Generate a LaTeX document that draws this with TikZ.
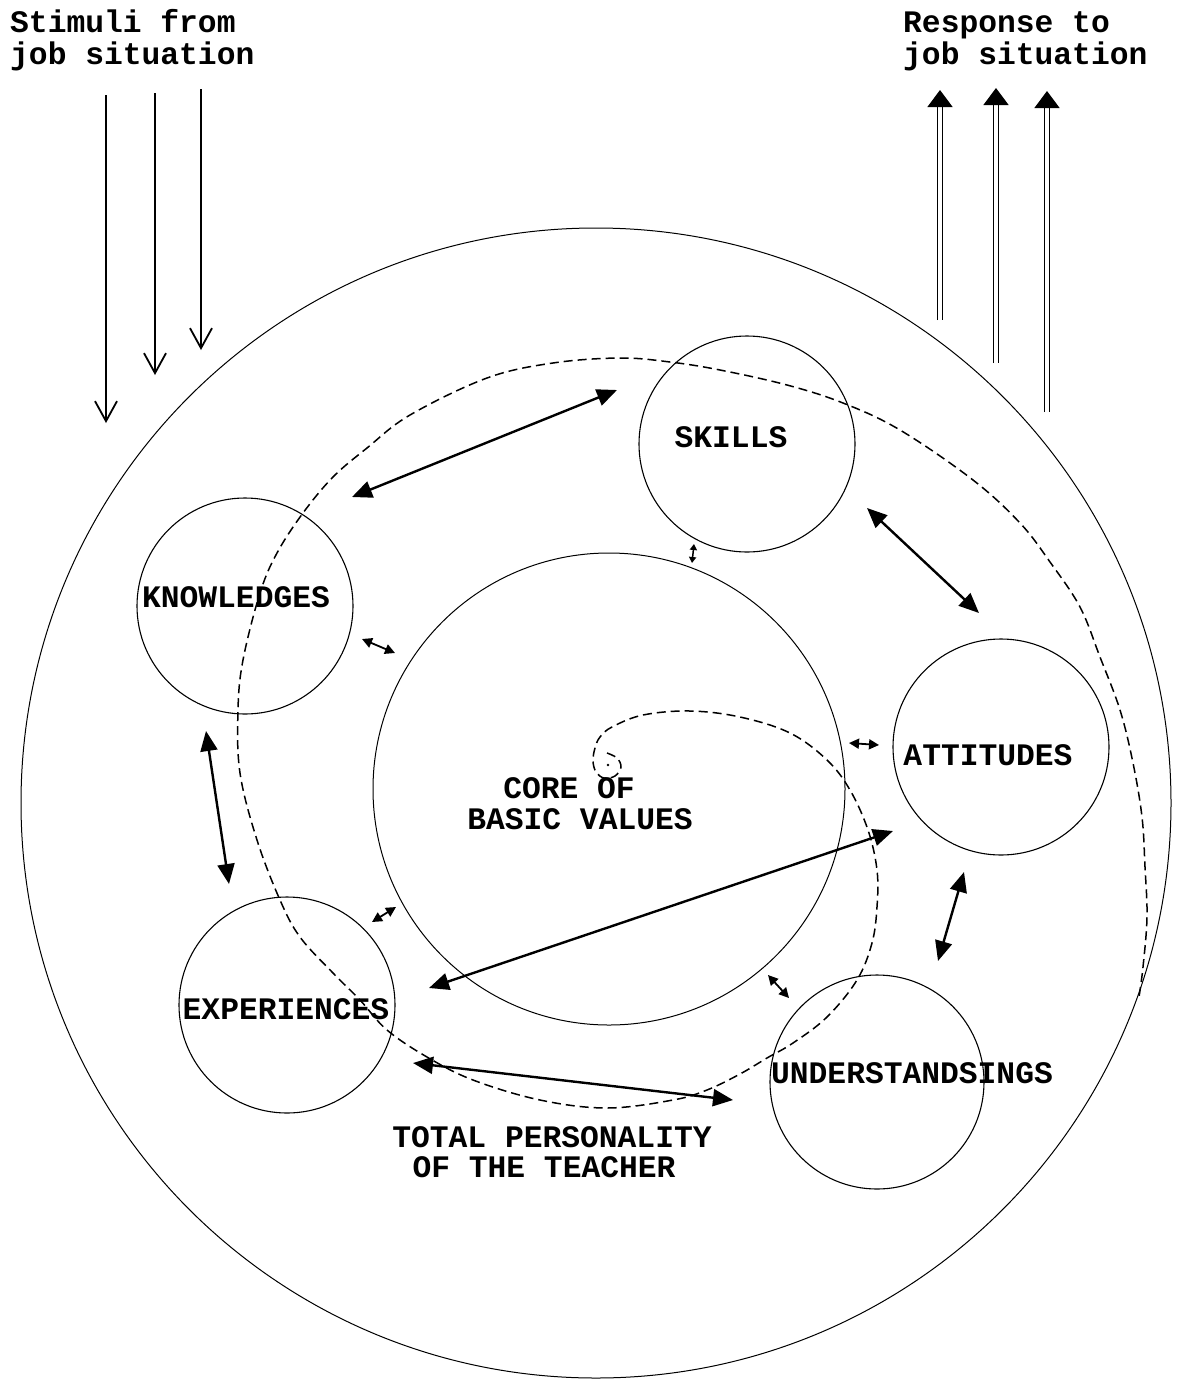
\documentclass[tikz,border=0pt]{standalone}
\usepackage{fontspec}
\newfontfamily\typew{Liberation Mono}
\usetikzlibrary{arrows.meta}
\begin{document}
\begin{tikzpicture}[x=1pt,y=-1pt,
  ring/.style={circle, draw, line width=1.1pt, inner sep=0pt, minimum size=#1},
  lbl/.style={font={\typew\bfseries\fontsize{31.3pt}{28pt}\selectfont}, inner sep=0pt},
  bigarr/.style={line width=2.4pt, {Triangle[length=20pt,width=17pt]}-{Triangle[length=20pt,width=17pt]}},
  smallarr/.style={line width=1.8pt, {Triangle[length=10pt,width=10pt]}-{Triangle[length=10pt,width=10pt]}},
  tinyarr/.style={line width=1.5pt, {Triangle[length=6pt,width=7pt]}-{Triangle[length=6pt,width=7pt]}},
  stim/.style={line width=1.8pt, -{Straight Barb[length=20pt,width=22pt,line width=1.8pt]}},
  resp/.style={double, line width=1.4pt, double distance=3.6pt, -{Triangle[length=17pt,width=25pt]}},
  spiral/.style={line width=1.5pt, dash pattern=on 9pt off 5pt}]
\useasboundingbox (0,0) rectangle (1180,1382);

% circles
\node[ring=1150pt, line width=1pt] (outer) at (596,803) {};
\node[ring=472pt, line width=1pt] (core) at (609,789) {};
\node[ring=216pt] (sk) at (747,444) {};
\node[ring=216pt] (kn) at (245,606) {};
\node[ring=216pt] (at) at (1001,747) {};
\node[ring=216pt] (ex) at (287,1005) {};
\node[ring=214pt] (un) at (877,1082) {};

% labels
\node[lbl] (tsk) at (731,437) {SKILLS};
\node[lbl] (tkn) at (236,597) {KNOWLEDGES};
\node[lbl] (tat) at (988,755) {ATTITUDES};
\node[lbl] (tex) at (286,1009) {EXPERIENCES};
\node[lbl] (tun) at (912,1073) {UNDERSTANDSINGS};
\node[lbl] (tc1) at (569,788) {CORE OF};
\node[lbl] (tc2) at (580,819) {BASIC VALUES};
\node[lbl] (tp1) at (552,1137) {TOTAL PERSONALITY};
\node[lbl] (tp2) at (544,1167) {OF THE TEACHER};
\node[lbl, anchor=base west] (h1) at (10,32) {Stimuli from};
\node[lbl, anchor=base west] (h2) at (10,64) {job situation};
\node[lbl, anchor=base west] (h3) at (903,32) {Response to};
\node[lbl, anchor=base west] (h4) at (903,64) {job situation};

% spiral
\fill (608,765) circle (1.3pt);
\draw[spiral] plot[smooth, tension=0.6] coordinates {
 (607,753) (617,758) (621,767) (615,776) (604,778) (596,772) (593,761) (595,748)
 (600,737) (612,727) (643,715) (690,711) (740,717) (790,733) (827,760) (850,790)
 (868,830) (877,870) (877,907) (872,943) (857,980) (827,1017) (793,1043) (767,1058)
 (740,1074) (707,1090) (673,1100) (607,1108) (540,1100) (473,1080) (427,1057)
 (387,1030) (360,1000) (333,973) (300,937) (280,900) (257,840) (240,773) (238,710)
 (243,660) (260,593) (277,553) (303,513) (333,477) (367,448) (410,415)
 (487,378) (553,363) (620,358) (670,362) (720,370) (787,385) (843,403) (900,430)
 (973,480) (1020,523) (1050,562) (1080,607) (1100,657) (1120,710) (1133,763)
 (1142,817) (1145,867) (1147,917) (1143,967) (1139,997)};

% stimuli arrows
\coordinate (s1a) at (106,95);  \coordinate (s1b) at (106,423);
\coordinate (s2a) at (155,93);  \coordinate (s2b) at (155,375);
\coordinate (s3a) at (201,89);  \coordinate (s3b) at (201,350);
\draw[stim] (s1a) -- (s1b);
\draw[stim] (s2a) -- (s2b);
\draw[stim] (s3a) -- (s3b);

% response arrows
\coordinate (r1a) at (940,320);  \coordinate (r1b) at (940,90);
\coordinate (r2a) at (996,363);  \coordinate (r2b) at (996,88);
\coordinate (r3a) at (1047,412); \coordinate (r3b) at (1047,91);
\draw[resp] (r1a) -- (r1b);
\draw[resp] (r2a) -- (r2b);
\draw[resp] (r3a) -- (r3b);

% big two-way arrows
\coordinate (b1a) at (352,497);  \coordinate (b1b) at (617,390);
\coordinate (b2a) at (867,508);  \coordinate (b2b) at (979,613);
\coordinate (b3a) at (206,731);  \coordinate (b3b) at (229,884);
\coordinate (b4a) at (964,872);  \coordinate (b4b) at (938,961);
\coordinate (b5a) at (429,988);  \coordinate (b5b) at (893,831);
\coordinate (b6a) at (413,1063); \coordinate (b6b) at (733,1100);
\draw[bigarr] (b1a) -- (b1b);
\draw[bigarr] (b2a) -- (b2b);
\draw[bigarr] (b3a) -- (b3b);
\draw[bigarr] (b4a) -- (b4b);
\draw[bigarr] (b5a) -- (b5b);
\draw[bigarr] (b6a) -- (b6b);

% small two-way arrows
\coordinate (m1a) at (694,544); \coordinate (m1b) at (692,563);
\coordinate (m2a) at (362,639); \coordinate (m2b) at (395,653);
\coordinate (m3a) at (849,743); \coordinate (m3b) at (879,745);
\coordinate (m4a) at (372,922); \coordinate (m4b) at (396,907);
\coordinate (m5a) at (768,975); \coordinate (m5b) at (789,998);
\draw[tinyarr] (m1a) -- (m1b);
\draw[smallarr] (m2a) -- (m2b);
\draw[smallarr] (m3a) -- (m3b);
\draw[smallarr] (m4a) -- (m4b);
\draw[smallarr] (m5a) -- (m5b);
\end{tikzpicture}
\end{document}
